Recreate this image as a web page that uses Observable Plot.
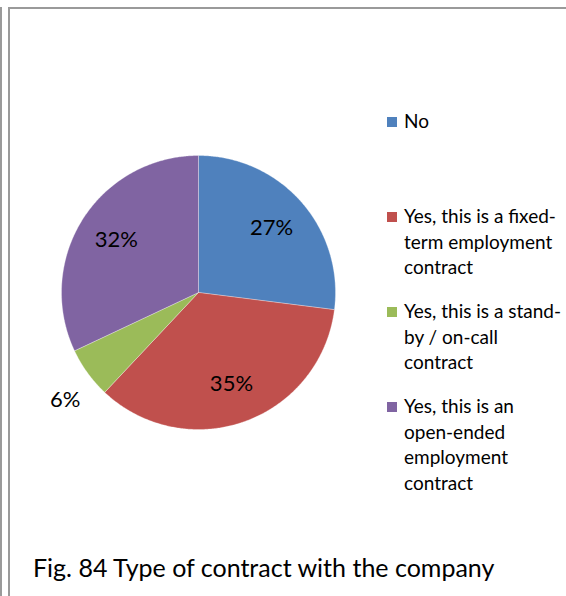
<!DOCTYPE html>
<html><head><meta charset="utf-8">
<script src="https://cdn.jsdelivr.net/npm/d3@7"></script>
<script src="https://cdn.jsdelivr.net/npm/@observablehq/plot@0.6"></script>
<style>
body{margin:0;background:#fff;}
#wrap{position:relative;width:566px;height:596px;overflow:hidden;font-family:Lato,"Open Sans",sans-serif;color:#000;}
#wrap svg{position:absolute;left:0;top:0;}
.ln{position:absolute;background:#9a9a9a;}
.sw{position:absolute;width:10px;height:10px;}
.lt{position:absolute;font-size:19px;white-space:nowrap;line-height:1;}
#cap{position:absolute;left:33px;font-size:25px;white-space:nowrap;line-height:1;}
</style></head><body><div id="wrap"></div>
<script>
const categories = ["No", "Yes, this is a fixed-term employment contract", "Yes, this is a stand-by / on-call contract", "Yes, this is an open-ended employment contract"];
const legendLines = [["No"], ["Yes, this is a fixed-", "term employment", "contract"], ["Yes, this is a stand-", "by / on-call", "contract"], ["Yes, this is an", "open-ended", "employment", "contract"]];
const values = [27, 35, 6, 32];
const colors = ["#4F81BD", "#C0504D", "#9BBB59", "#8064A2"];
const caption = "Fig. 84 Type of contract with the company";

const total = d3.sum(values);
const pts = [];
const labels = [];
let acc = 0;
values.forEach((v, i) => {
  const a0 = acc / total * 2 * Math.PI;
  acc += v;
  const a1 = acc / total * 2 * Math.PI;
  const n = Math.max(2, Math.ceil((a1 - a0) / (Math.PI / 360)));
  pts.push({cat: categories[i], x: 0, y: 0});
  for (let k = 0; k <= n; k++) {
    const a = a0 + (a1 - a0) * k / n;
    pts.push({cat: categories[i], x: Math.sin(a), y: Math.cos(a)});
  }
  pts.push({cat: categories[i], x: 0, y: 0});
  const am = (a0 + a1) / 2;
  const outside = v / total < 0.1;
  const lr = outside ? 1.25 : 0.71;
  const la = outside ? am - 0.05 : am;
  labels.push({text: Math.round(v / total * 100) + "%", x: lr * Math.sin(la), y: lr * Math.cos(la)});
});

const W = 566, H = 596;
const chart = Plot.plot({
  width: W, height: H,
  marginLeft: 61, marginRight: W - 335, marginTop: 155, marginBottom: H - 429,
  x: {domain: [-1, 1], axis: null},
  y: {domain: [-1, 1], axis: null},
  color: {domain: categories, range: colors},
  style: {background: "transparent", fontFamily: "Lato, 'Open Sans', sans-serif"},
  marks: [
    Plot.line(pts, {x: "x", y: "y", z: "cat", fill: "cat", stroke: "#ffffff", strokeWidth: 0.6, strokeOpacity: 0.5, curve: "linear", clip: false}),
    Plot.text(labels, {x: "x", y: "y", text: "text", fontSize: 22, fill: "#000", textAnchor: "middle", lineAnchor: "middle"})
  ]
});

const wrap = document.getElementById("wrap");
wrap.appendChild(chart);

// frame lines
[[0, 7, 2, H - 7], [8, 7, 2, H - 7], [8, 7, W - 8, 2]].forEach(([l, t, w, h]) => {
  const d = document.createElement("div");
  d.className = "ln";
  Object.assign(d.style, {left: l + "px", top: t + "px", width: w + "px", height: h + "px"});
  wrap.appendChild(d);
});

// legend
const baselines = [128, 223, 318, 413];
const lineH = 25.5;
legendLines.forEach((lines, i) => {
  const sw = document.createElement("div");
  sw.className = "sw";
  sw.style.background = colors[i];
  sw.style.left = "387px";
  sw.style.top = (baselines[i] - 11) + "px";
  wrap.appendChild(sw);
  lines.forEach((t, j) => {
    const s = document.createElement("div");
    s.className = "lt";
    s.textContent = t;
    s.style.left = "404px";
    s.style.top = (baselines[i] + j * lineH - 17) + "px";
    wrap.appendChild(s);
  });
});

const cap = document.createElement("div");
cap.id = "cap";
cap.textContent = caption;
cap.style.top = (577 - 22) + "px";
wrap.appendChild(cap);
</script>
</body></html>
